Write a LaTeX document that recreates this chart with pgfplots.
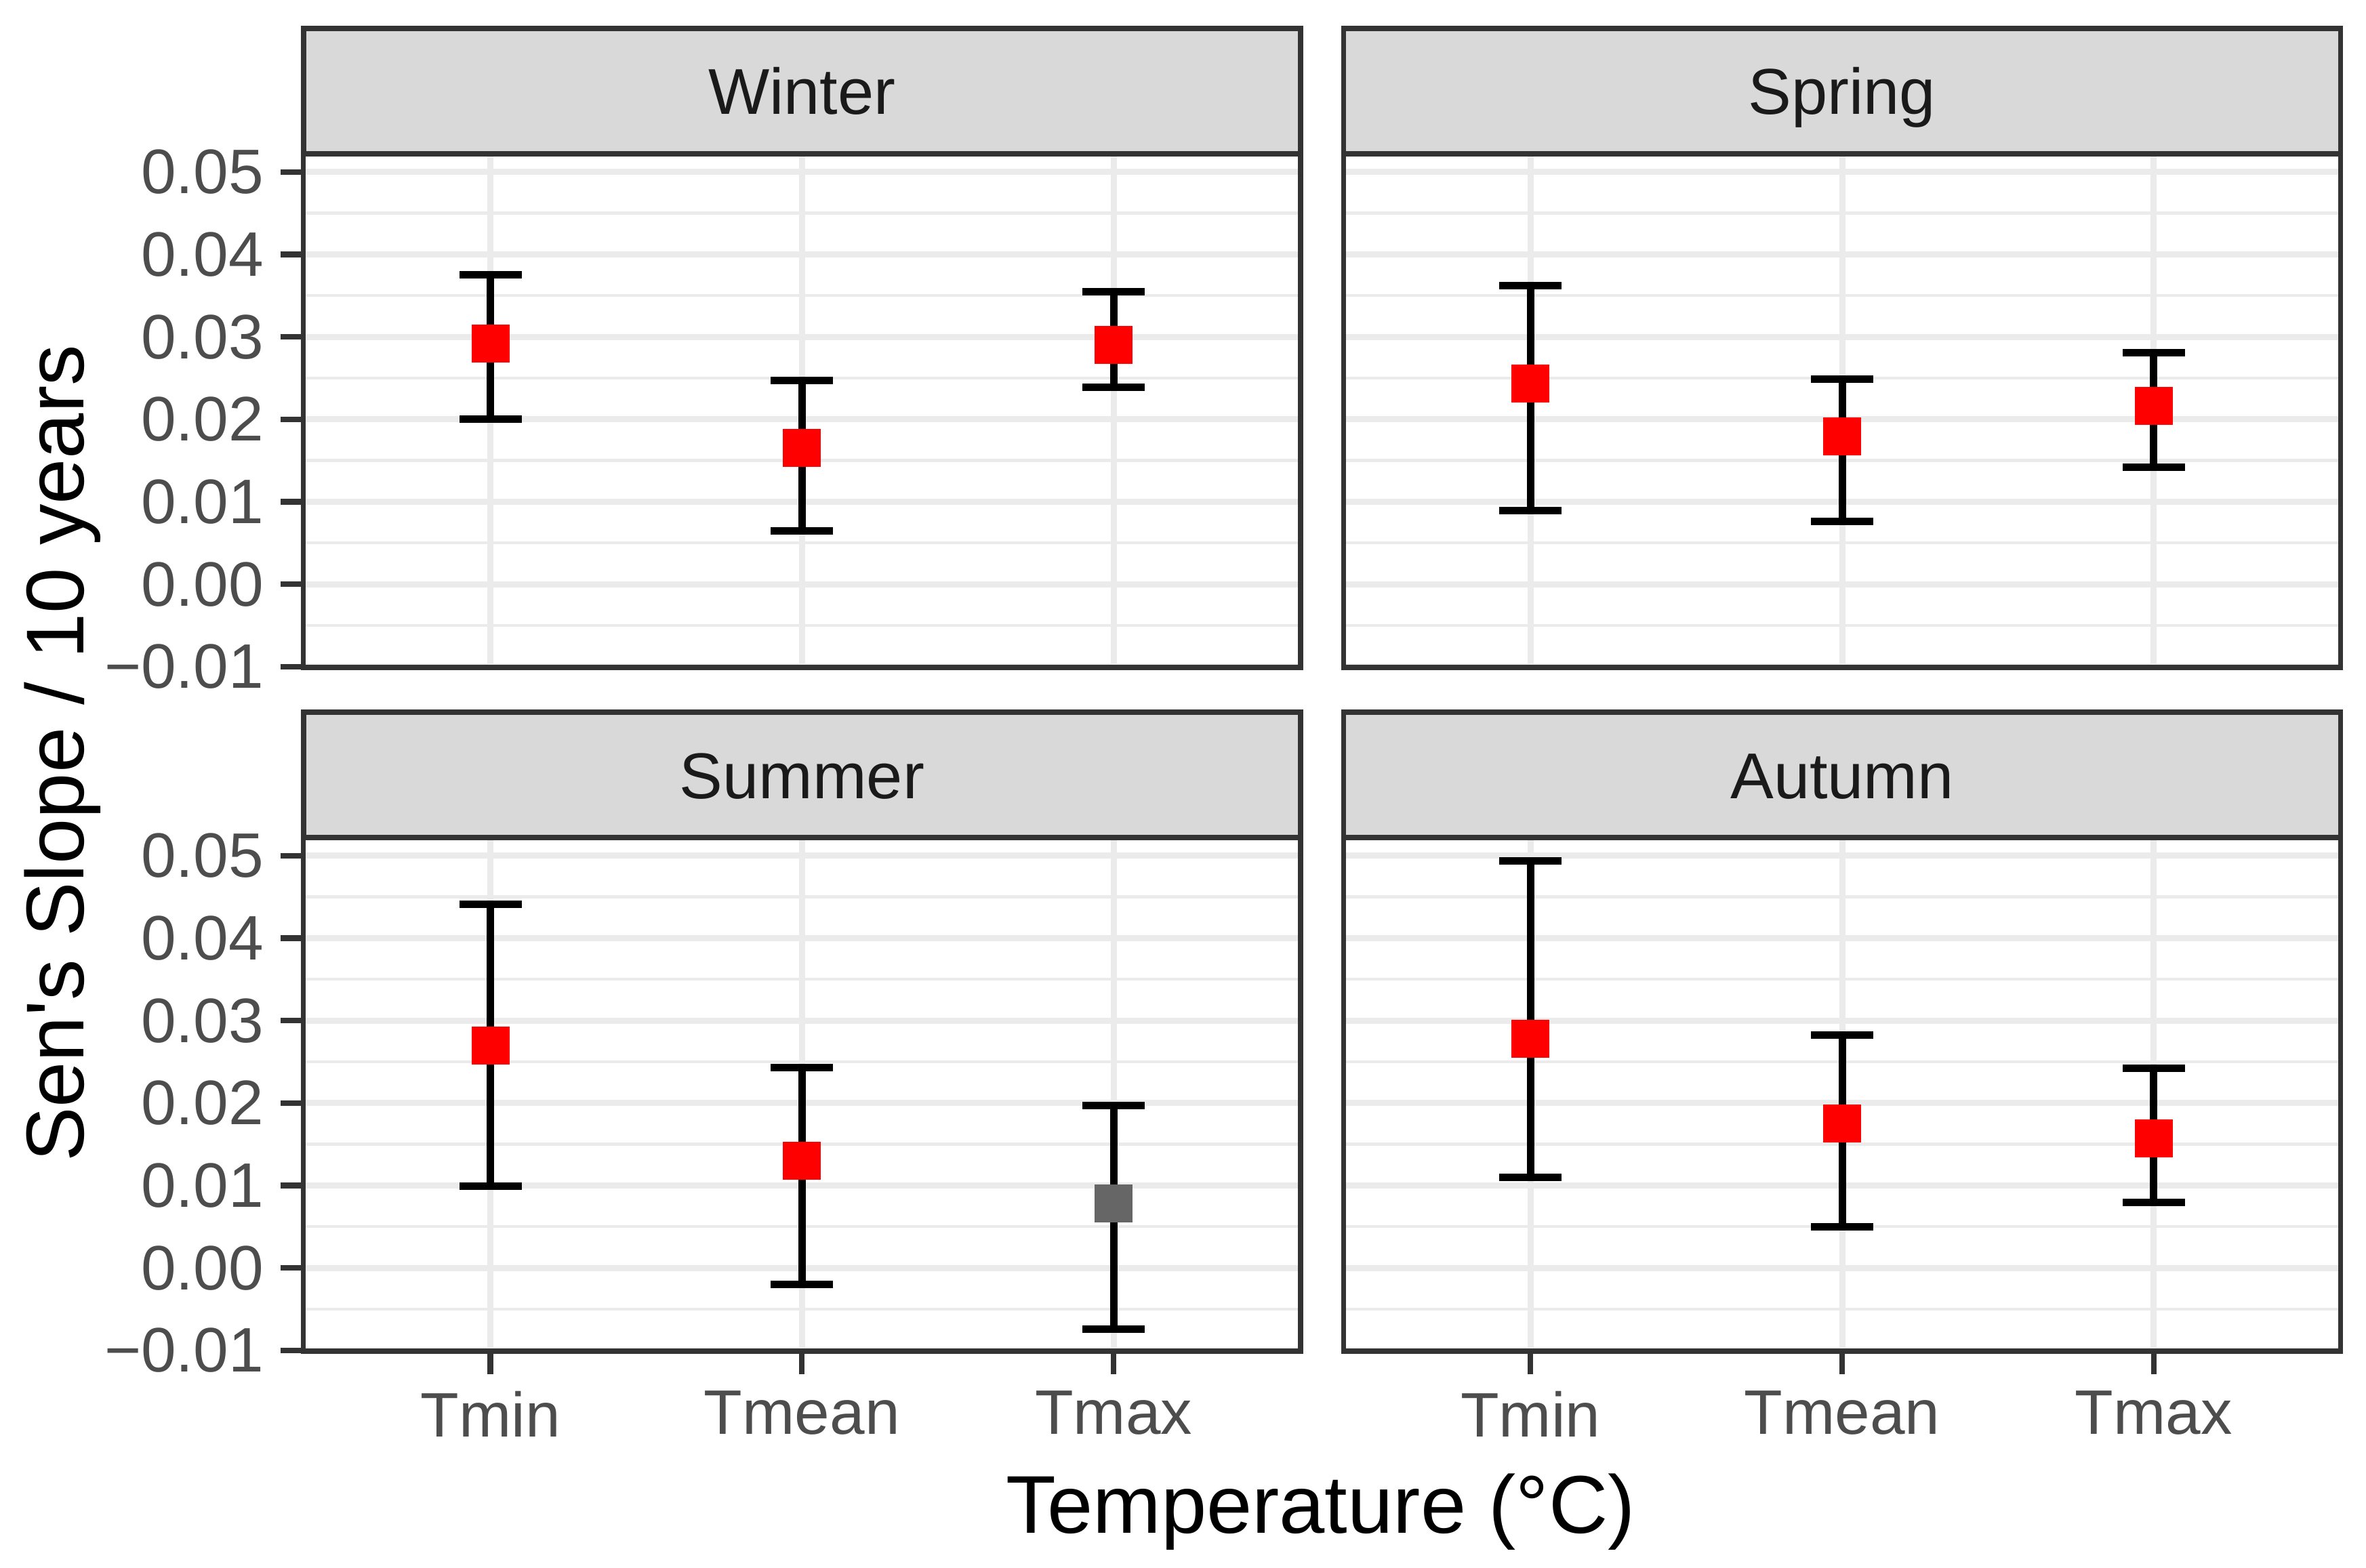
\documentclass[border=0pt]{standalone}
\usepackage{fontspec}
\setmainfont{Liberation Sans}
\usepackage{pgfplots}
\usepackage{pgfplotstable}
\pgfplotsset{compat=1.18}

\definecolor{gridgray}{HTML}{EBEBEB}
\definecolor{border}{HTML}{333333}
\definecolor{stripfill}{HTML}{D9D9D9}
\definecolor{ticktext}{HTML}{4D4D4D}
\definecolor{striptext}{HTML}{1A1A1A}
\definecolor{ptgray}{HTML}{666666}

% x = category (0 Tmin, 1 Tmean, 2 Tmax), y = slope, lo/hi = interval, cls = s (significant) / n
\pgfplotstableread{
x y lo hi cls
0 0.0292 0.0200 0.0375 s
1 0.0165 0.0065 0.0247 s
2 0.0290 0.0239 0.0355 s
}\winter
\pgfplotstableread{
x y lo hi cls
0 0.0243 0.0089 0.0362 s
1 0.0179 0.0076 0.0249 s
2 0.0216 0.0142 0.0281 s
}\spring
\pgfplotstableread{
x y lo hi cls
0 0.0270 0.0099 0.0441 s
1 0.0130 -0.0020 0.0243 s
2 0.0078 -0.0074 0.0197 n
}\summer
\pgfplotstableread{
x y lo hi cls
0 0.0278 0.0110 0.0494 s
1 0.0175 0.0050 0.0282 s
2 0.0157 0.0079 0.0242 s
}\autumn

\pgfplotsset{
  facet/.style={
    scale only axis, width=73.56mm, height=37.9mm, anchor=south west,
    xmin=-0.6, xmax=2.6, ymin=-0.0101, ymax=0.0522,
    xtick={0,1,2}, ytick={-0.01,0,0.01,0.02,0.03,0.04,0.05},
    minor ytick={-0.005,0.005,0.015,0.025,0.035,0.045},
    xmajorgrids, ymajorgrids, yminorgrids,
    major grid style={gridgray, line width=0.45mm},
    minor grid style={gridgray, line width=0.22mm},
    axis line style={border, line width=0.38mm},
    tick align=outside, major tick length=1.7mm, minor tick length=0pt,
    tick style={border, line width=0.42mm},
    xtick pos=bottom, ytick pos=left,
    scaled ticks=false,
    tick label style={font=\fontsize{13.2}{15}\selectfont, text=ticktext},
  },
  pts/.style={
    only marks, scatter, scatter src=explicit symbolic,
    mark=square*, mark size=1.33mm,
    scatter/classes={s={mark=square*,draw=red,fill=red}, n={mark=square*,draw=ptgray,fill=ptgray}},
    error bars/.cd, y dir=both, y explicit,
    error mark=|,
    error bar style={black, line width=0.55mm},
    error mark options={black, line width=0.55mm, mark size=2.3mm},
  },
  table/errcols/.style={x=x, y=y, meta=cls,
    y error plus expr=\thisrow{hi}-\thisrow{y},
    y error minus expr=\thisrow{y}-\thisrow{lo}},
}
\newcommand{\strip}[3]{%
  \draw[fill=stripfill, draw=border, line width=0.38mm] (#1,#2) rectangle ++(73.56mm,9.25mm);
  \node[anchor=base, inner sep=0pt, font=\fontsize{13.6}{16}\selectfont, text=striptext]
    at ([xshift=36.78mm, yshift=2.9mm]#1,#2) {#3};}

\begin{document}
\begin{tikzpicture}
\useasboundingbox (0,0) rectangle (174.55mm,115.65mm);

\begin{axis}[facet, at={(22.385mm,66.40mm)}, xmajorticks=false, xticklabels={},
  yticklabels={−0.01,0.00,0.01,0.02,0.03,0.04,0.05}]
\addplot[pts] table[errcols] {\winter};
\end{axis}
\strip{22.385mm}{104.30mm}{Winter}

\begin{axis}[facet, at={(99.12mm,66.40mm)}, xmajorticks=false, ymajorticks=false,
  xticklabels={}, yticklabels={}]
\addplot[pts] table[errcols] {\spring};
\end{axis}
\strip{99.12mm}{104.30mm}{Spring}

\begin{axis}[facet, at={(22.385mm,15.95mm)}, xticklabels={Tmin,Tmean,Tmax},
  yticklabels={−0.01,0.00,0.01,0.02,0.03,0.04,0.05}]
\addplot[pts] table[errcols] {\summer};
\end{axis}
\strip{22.385mm}{53.85mm}{Summer}

\begin{axis}[facet, at={(99.12mm,15.95mm)}, ymajorticks=false, yticklabels={},
  xticklabels={Tmin,Tmean,Tmax}]
\addplot[pts] table[errcols] {\autumn};
\end{axis}
\strip{99.12mm}{53.85mm}{Autumn}

\node[rotate=90, anchor=base, font=\fontsize{17.2}{20}\selectfont] at (6.15mm,60.05mm)
  {Sen\textquotesingle s Slope / 10 years};
\node[anchor=base, font=\fontsize{17.2}{20}\selectfont] at (97.44mm,2.52mm)
  {Temperature (°C)};
\end{tikzpicture}
\end{document}
